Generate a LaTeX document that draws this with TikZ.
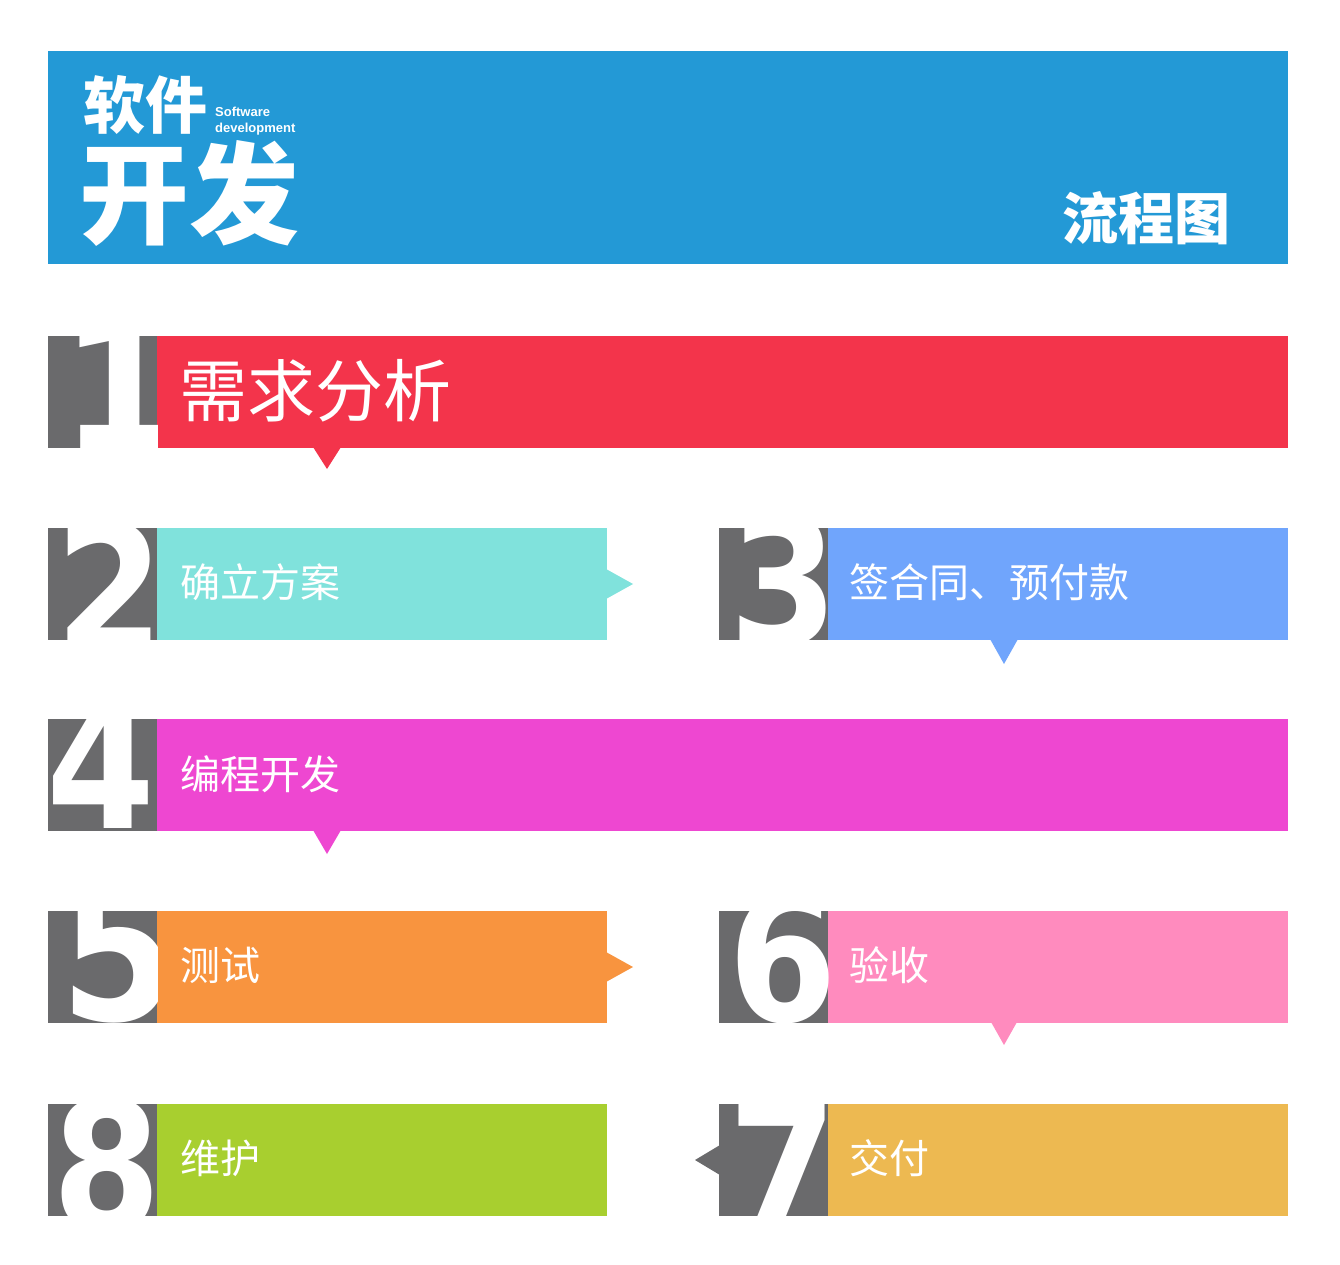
\documentclass[tikz,border=0pt]{standalone}
\usepackage{fontspec}
\setmainfont{Liberation Sans}
\newfontfamily\cjk{Noto Sans CJK SC}
\newfontfamily\digitfont{DejaVu Sans}
\definecolor{hdrblue}{HTML}{2399D6}
\definecolor{numgray}{HTML}{6A6A6C}
\definecolor{cred}{HTML}{F3344B}
\definecolor{cteal}{HTML}{80E2DC}
\definecolor{cblue}{HTML}{70A5FC}
\definecolor{cmag}{HTML}{EE47D1}
\definecolor{corange}{HTML}{F8943F}
\definecolor{cpink}{HTML}{FF8BBE}
\definecolor{cgold}{HTML}{EDB951}
\definecolor{cgreen}{HTML}{A8CF2F}
\tikzset{
  barbox/.style={inner sep=0pt, outer sep=0pt, minimum height=112pt, anchor=north west},
  numbox/.style={fill=numgray, inner sep=0pt, outer sep=0pt, minimum width=109pt, minimum height=112pt, anchor=north west},
  digit/.style={text=white, inner sep=0pt, anchor=base, xscale=0.88, font=\digitfont\bfseries\fontsize{178}{178}\selectfont},
  bigdigit/.style={digit, font=\digitfont\bfseries\fontsize{190}{190}\selectfont},
  steplabel/.style={text=white, inner sep=0pt, anchor=base west, font=\cjk\fontsize{40}{40}\selectfont},
  biglabel/.style={text=white, inner sep=0pt, anchor=base west, font=\cjk\fontsize{68}{68}\selectfont},
  titlecjk/.style={text=white, inner sep=0pt, anchor=base west},
  entext/.style={text=white, inner sep=0pt, anchor=base west, font=\bfseries\fontsize{13}{13}\selectfont}
}
\begin{document}
\begin{tikzpicture}[x=1pt,y=-1pt]
\useasboundingbox[fill=white] (0,0) rectangle (1340,1265);

% header
\node[fill=hdrblue, inner sep=0pt, outer sep=0pt, minimum width=1240pt, minimum height=213pt, anchor=north west] (header) at (48,51) {};
\node[titlecjk, font=\cjk\bfseries\fontsize{62}{62}\selectfont] (t1) at (83,129) {软件};
\node[titlecjk, font=\cjk\bfseries\fontsize{110}{110}\selectfont] (t2) at (79,236) {开发};
\node[entext] (en1) at (215,117) {Software};
\node[entext] (en2) at (215,133) {development};
\node[titlecjk, font=\cjk\bfseries\fontsize{56}{56}\selectfont] (t3) at (1062,240) {流程图};

% row 1
\node[barbox, fill=cred, minimum width=1131pt] (bar1) at (157,336) {};
\fill[cred] (313,447) -- (327,469) -- (341,447) -- cycle;
\node[numbox] (n1) at (48,336) {};
\begin{scope}
  \clip (n1.north west) rectangle (n1.south east);
  \path (120,448) node[digit, xscale=1.1] (d1) {1};
\end{scope}
\node[biglabel] (l1) at (179,416) {需求分析};

% row 2
\node[barbox, fill=cteal, minimum width=450pt] (bar2) at (157,528) {};
\fill[cteal] (606,569) -- (633,584) -- (606,599) -- cycle;
\node[numbox] (n2) at (48,528) {};
\begin{scope}
  \clip (n2.north west) rectangle (n2.south east);
  \path (110,652) node[digit] (d2) {2};
\end{scope}
\node[steplabel] (l2) at (180,597) {确立方案};

% row 3
\node[barbox, fill=cblue, minimum width=460pt] (bar3) at (828,528) {};
\fill[cblue] (990,639) -- (1004,664) -- (1018,639) -- cycle;
\node[numbox] (n3) at (719,528) {};
\begin{scope}
  \clip (n3.north west) rectangle (n3.south east);
  \path (784,645) node[digit] (d3) {3};
\end{scope}
\node[steplabel] (l3) at (849,597) {签合同、预付款};

% row 4
\node[barbox, fill=cmag, minimum width=1131pt] (bar4) at (157,719) {};
\fill[cmag] (313,830) -- (327,854) -- (341,830) -- cycle;
\node[numbox] (n4) at (48,719) {};
\begin{scope}
  \clip (n4.north west) rectangle (n4.south east);
  \path (101,828) node[digit] (d4) {4};
\end{scope}
\node[steplabel] (l4) at (180,789) {编程开发};

% row 5
\node[barbox, fill=corange, minimum width=450pt] (bar5) at (157,911) {};
\fill[corange] (606,952) -- (633,967) -- (606,982) -- cycle;
\node[numbox] (n5) at (48,911) {};
\begin{scope}
  \clip (n5.north west) rectangle (n5.south east);
  \path (119,1020) node[bigdigit] (d5) {5};
\end{scope}
\node[steplabel] (l5) at (180,980) {测试};

% row 6
\node[barbox, fill=cpink, minimum width=460pt] (bar6) at (828,911) {};
\fill[cpink] (991,1022) -- (1004,1045) -- (1017,1022) -- cycle;
\node[numbox] (n6) at (719,911) {};
\begin{scope}
  \clip (n6.north west) rectangle (n6.south east);
  \path (783,1021) node[digit] (d6) {6};
\end{scope}
\node[steplabel] (l6) at (849,980) {验收};

% row 7
\node[barbox, fill=cgold, minimum width=460pt] (bar7) at (828,1104) {};
\node[numbox] (n7) at (719,1104) {};
\fill[numgray] (720,1145) -- (695,1160) -- (720,1175) -- cycle;
\begin{scope}
  \clip (n7.north west) rectangle (n7.south east);
  \path (783,1231) node[digit] (d7) {7};
\end{scope}
\node[steplabel] (l7) at (849,1173) {交付};

% row 8
\node[barbox, fill=cgreen, minimum width=450pt] (bar8) at (157,1104) {};
\node[numbox] (n8) at (48,1104) {};
\begin{scope}
  \clip (n8.north west) rectangle (n8.south east);
  \path (107,1229) node[digit] (d8) {8};
\end{scope}
\node[steplabel] (l8) at (180,1173) {维护};

\end{tikzpicture}
\end{document}
